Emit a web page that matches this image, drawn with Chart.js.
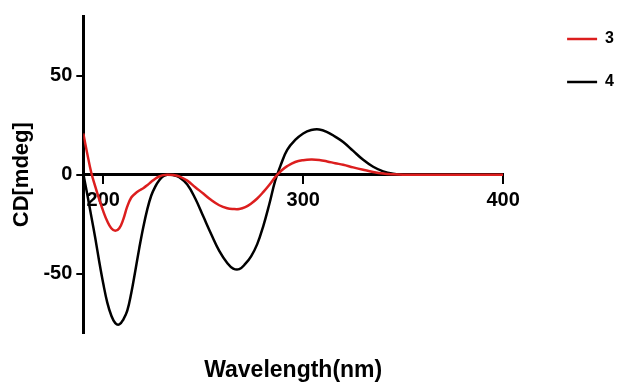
<!DOCTYPE html>
<html>
<head>
<meta charset="utf-8">
<script src="https://cdn.jsdelivr.net/npm/chart.js@4.4.1/dist/chart.umd.min.js"></script>
<style>
  body { margin: 0; background: #fff; }
  #wrap { width: 627px; height: 385px; }
</style>
</head>
<body>
<div id="wrap"><canvas id="cdChart"></canvas></div>
<script>
// Wavelengths (nm) and CD values (mdeg)
const wavelengths = [190, 192, 194, 196, 198, 200, 202, 204, 206, 208, 210, 212, 214, 216, 218, 220, 222, 224, 226, 228, 230, 232, 235, 238, 242, 246, 250, 254, 258, 262, 265, 268, 271, 274, 277, 280, 283, 286, 289, 292, 296, 300, 304, 308, 312, 316, 320, 325, 330, 335, 340, 345, 350, 360, 375, 390, 400];
const cd3 = [20.8, 10.5, 1, -6, -12.5, -18.5, -23.5, -27, -28.3, -27, -22.5, -16, -11.5, -9.5, -8, -6.8, -5.3, -3.6, -2, -0.9, -0.2, 0,
  -0.2, -0.8, -3, -6.3, -9.5, -12.8, -15.4, -16.9, -17.3, -17.3, -16.4, -14.5, -12, -8.8, -5.2, -1.2, 2, 4.3,
  6.4, 7.3, 7.6, 7.4, 6.7, 5.8, 5, 3.7, 2.5, 1.4, 0.6, 0.2, 0, 0, 0, 0, 0];
const cd4 = [0.5, -10, -21, -32, -44, -55, -64.5, -71, -74.8, -75.5, -73, -68.5, -59.6, -48.5, -37, -26.5, -17.5, -10.5, -6, -2.8, -0.8, 0,
  -0.2, -1.3, -5, -12, -21, -30, -38.4, -44.5, -47.3, -47.6, -45, -41, -35, -26, -15, -3, 5.5, 12.5,
  17.5, 20.8, 22.5, 22.8, 21.5, 19.2, 16.5, 12, 7.5, 4, 1.7, 0.5, 0, 0, 0, 0, 0];
const seriesNames = ['3', '4'];
const xTicks = [200, 300, 400];
const yTicks = [-50, 0, 50];

const toPoints = vals => vals.map((v, i) => ({ x: wavelengths[i], y: v }));
const fontFamily = '"Liberation Sans", Arial, sans-serif';

const ctx = document.getElementById('cdChart').getContext('2d');
const cdChart = new Chart(ctx, {
  type: 'line',
  data: {
    datasets: [
      {
        label: seriesNames[0],
        data: toPoints(cd3),
        xAxisID: 'x',
        yAxisID: 'y',
        borderColor: '#dc1e1e',
        backgroundColor: '#dc1e1e',
        borderWidth: 2.5,
        pointRadius: 0,
        pointStyle: 'line',
        tension: 0.4
      },
      {
        label: seriesNames[1],
        data: toPoints(cd4),
        xAxisID: 'x',
        yAxisID: 'y',
        borderColor: '#000',
        backgroundColor: '#000',
        borderWidth: 2.5,
        pointRadius: 0,
        pointStyle: 'line',
        tension: 0.4
      }
    ]
  },
  options: {
    responsive: true,
    maintainAspectRatio: false,
    animation: false,
    layout: { padding: { top: 4, right: 3, bottom: 1, left: 0 } },
    plugins: {
      tooltip: { enabled: false },
      legend: {
        position: 'right',
        align: 'start',
        labels: {
          usePointStyle: true,
          pointStyle: 'line',
          pointStyleWidth: 30,
          padding: 27,
          color: '#000',
          font: { family: fontFamily, size: 16, weight: 'bold' }
        }
      }
    },
    scales: {
      x: {
        type: 'linear',
        position: { y: 0 },
        min: 190,
        max: 400,
        afterBuildTicks: axis => { axis.ticks = xTicks.map(v => ({ value: v })); },
        border: { color: '#000', width: 3 },
        grid: { drawOnChartArea: false, color: '#000', lineWidth: 2, tickLength: 8 },
        ticks: { color: '#000', padding: 6, maxRotation: 0, font: { family: fontFamily, size: 20, weight: 'bold' } }
      },
      // bottom axis only carries the title
      xTitle: {
        type: 'linear',
        position: 'bottom',
        border: { display: false },
        grid: { display: false, drawTicks: false },
        ticks: { display: false },
        title: {
          display: true,
          text: 'Wavelength(nm)',
          color: '#000',
          padding: { top: 23, bottom: 0 },
          font: { family: fontFamily, size: 23, weight: 'bold' }
        }
      },
      // spacers so the plot sits where it does in the figure
      xTop: {
        type: 'linear',
        position: 'top',
        border: { display: false },
        grid: { display: false, drawTicks: false },
        ticks: { display: false },
        afterFit: axis => { axis.height = 12; }
      },
      yRight: {
        type: 'linear',
        position: 'right',
        border: { display: false },
        grid: { display: false, drawTicks: false },
        ticks: { display: false },
        afterFit: axis => { axis.width = 37; }
      },
      y: {
        type: 'linear',
        position: 'left',
        min: -80,
        max: 80,
        afterBuildTicks: axis => { axis.ticks = yTicks.map(v => ({ value: v })); },
        border: { color: '#000', width: 3 },
        grid: { drawOnChartArea: false, color: '#000', lineWidth: 2, tickLength: 7 },
        ticks: { color: '#000', padding: 4, font: { family: fontFamily, size: 20, weight: 'bold' } },
        title: {
          display: true,
          text: 'CD[mdeg]',
          color: '#000',
          padding: { top: 9, bottom: 4 },
          font: { family: fontFamily, size: 22, weight: 'bold' }
        }
      }
    }
  }
});
</script>
</body>
</html>
